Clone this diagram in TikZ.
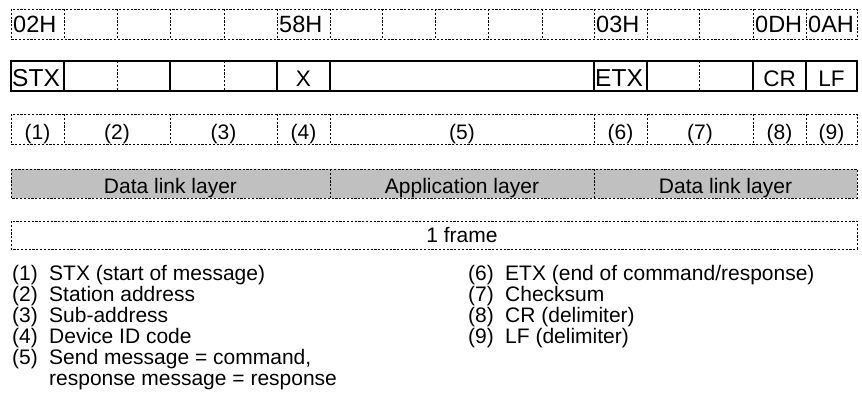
\documentclass[tikz,border=0pt]{standalone}
\usepackage{fontspec}
\setmainfont{Liberation Sans}
\definecolor{layergray}{RGB}{192,192,192}
\begin{document}
\begin{tikzpicture}[x=1pt,y=-1pt,
  dsh/.style={line width=0.8pt,dash pattern=on 2.2pt off 1.6pt},
  solidbox/.style={line width=2pt},
  solidsep/.style={line width=1.6pt},
  lbl/.style={inner sep=0pt,anchor=base,font=\fontsize{21}{25}\selectfont},
  fldlbl/.style={inner sep=0pt,anchor=base,font=\fontsize{22.5}{26}\selectfont},
  hexlbl/.style={inner sep=0pt,anchor=base west,font=\fontsize{23.5}{27}\selectfont},
  biglbl/.style={inner sep=0pt,anchor=base west,font=\fontsize{24.5}{28}\selectfont},
  leg/.style={inner sep=0pt,anchor=base west,font=\fontsize{21}{25}\selectfont}]
\useasboundingbox (0,0) rectangle (862,412);

% Row 1: hex codes
\draw[dsh] (11,9) rectangle (857,39);
\foreach \x in {64,117,170,224,277,330,382,435,488,542,594,647,699,753,806}
  \draw[dsh] (\x,9) -- (\x,39);
\node[hexlbl] (h1) at (13,33) {02H};
\node[hexlbl] (h2) at (279,33) {58H};
\node[hexlbl] (h3) at (596,33) {03H};
\node[hexlbl] (h4) at (755,33) {0DH};
\node[hexlbl] (h5) at (808,33) {0AH};

% Row 2: frame fields
\foreach \x in {117,224,699}
  \draw[dsh] (\x,61) -- (\x,91);
\foreach \x in {64,170,277,330,594,647,753,806}
  \draw[solidsep] (\x,61) -- (\x,91);
\draw[solidbox] (11,61) rectangle (857,91);
\node[biglbl] (f1) at (12,86.5) {STX};
\node[fldlbl] (f2) at (303.5,86) {X};
\node[biglbl] (f3) at (595,86.5) {ETX};
\node[fldlbl] (f4) at (779.5,86) {CR};
\node[fldlbl] (f5) at (831.5,86) {LF};

% Row 3: field numbers
\draw[dsh] (11,114) rectangle (857,144);
\foreach \x in {64,170,277,330,594,647,753,806}
  \draw[dsh] (\x,114) -- (\x,144);
\node[lbl] (n1) at (37.5,139) {(1)};
\node[lbl] (n2) at (117,139) {(2)};
\node[lbl] (n3) at (223.5,139) {(3)};
\node[lbl] (n4) at (303.5,139) {(4)};
\node[lbl] (n5) at (462,139) {(5)};
\node[lbl] (n6) at (620.5,139) {(6)};
\node[lbl] (n7) at (700,139) {(7)};
\node[lbl] (n8) at (779.5,139) {(8)};
\node[lbl] (n9) at (831.5,139) {(9)};

% Row 4: layers
\fill[layergray] (11,169) rectangle (857,198);
\draw[dsh] (11,169) rectangle (857,198);
\draw[dsh] (330,169) -- (330,198);
\draw[dsh] (594,169) -- (594,198);
\node[lbl] (l1) at (170.5,193) {Data link layer};
\node[lbl] (l2) at (462,193) {Application layer};
\node[lbl] (l3) at (725.5,193) {Data link layer};

% Row 5: frame
\draw[dsh] (11,221) rectangle (857,249);
\node[lbl] (fr) at (462,242) {1 frame};

% Legend
\node[leg] (k1) at (12,280) {(1)};
\node[leg] (t1) at (49,280) {STX (start of message)};
\node[leg] (k2) at (12,301) {(2)};
\node[leg] (t2) at (49,301) {Station address};
\node[leg] (k3) at (12,322) {(3)};
\node[leg] (t3) at (49,322) {Sub-address};
\node[leg] (k4) at (12,343) {(4)};
\node[leg] (t4) at (49,343) {Device ID code};
\node[leg] (k5) at (12,364) {(5)};
\node[leg] (t5) at (49,364) {Send message = command,};
\node[leg] (t5b) at (49,385) {response message = response};
\node[leg] (k6) at (468,280) {(6)};
\node[leg] (t6) at (505,280) {ETX (end of command/response)};
\node[leg] (k7) at (468,301) {(7)};
\node[leg] (t7) at (505,301) {Checksum};
\node[leg] (k8) at (468,322) {(8)};
\node[leg] (t8) at (505,322) {CR (delimiter)};
\node[leg] (k9) at (468,343) {(9)};
\node[leg] (t9) at (505,343) {LF (delimiter)};
\end{tikzpicture}
\end{document}
